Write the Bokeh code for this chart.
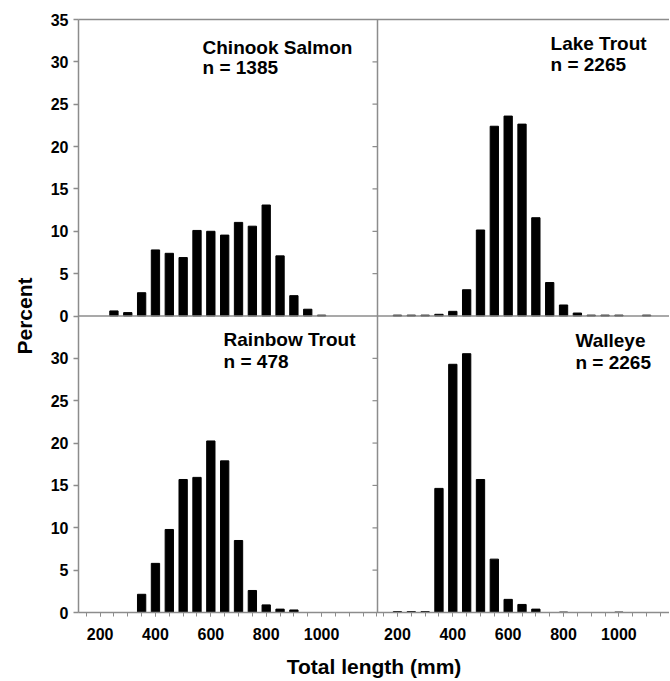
from bokeh.plotting import figure
from bokeh.models import Range1d, LinearAxis, FixedTicker, Span, Label
from bokeh.embed import file_html
from bokeh.resources import INLINE

# ---------------- data ----------------
chinook_len = [250, 300, 350, 400, 450, 500, 550, 600, 650, 700, 750, 800, 850, 900, 950, 1000]
chinook_pct = [0.6, 0.4, 2.75, 7.8, 7.4, 6.9, 10.1, 10.0, 9.55, 11.05, 10.6, 13.1, 7.1, 2.4, 0.8, 0.1]

lake_len = [200, 250, 300, 350, 400, 450, 500, 550, 600, 650, 700, 750, 800, 850, 900, 950, 1000, 1100]
lake_pct = [0.1, 0.1, 0.1, 0.2, 0.55, 3.1, 10.15, 22.4, 23.6, 22.65, 11.6, 3.95, 1.3, 0.35, 0.1, 0.1, 0.1, 0.1]

rainbow_len = [350, 400, 450, 500, 550, 600, 650, 700, 750, 800, 850, 900]
rainbow_pct = [2.15, 5.8, 9.8, 15.7, 15.95, 20.25, 17.9, 8.5, 2.6, 0.9, 0.4, 0.3]

walleye_len = [200, 250, 300, 350, 400, 450, 500, 550, 600, 650, 700, 800, 1000]
walleye_pct = [0.1, 0.1, 0.1, 14.65, 29.3, 30.55, 15.7, 6.3, 1.55, 0.95, 0.4, 0.05, 0.05]

species = ["Chinook Salmon", "Lake Trout", "Rainbow Trout", "Walleye"]
sample_n = [1385, 2265, 478, 2265]

y_ticks = [0, 5, 10, 15, 20, 25, 30, 35]
x_label_ticks = [200, 400, 600, 800, 1000]
x_minor_ticks = [150, 200, 250, 300, 350, 400, 450, 500, 550, 600, 650, 700,
                 750, 800, 850, 900, 950, 1000, 1050, 1100, 1150, 1200]

# ---------------- geometry ----------------
FONT = "Liberation Sans"
GREY = "#8c8c8c"
LW = 1.5

W, H = 669, 680
BL, BT = 78, 19               # frame left / top on the page
FB = 613                      # frame bottom on the page
xl0, xl1 = 122, 1202          # left panels (mm)
xr0 = 128                     # right panels start (mm)
left_px = 299
right_px = W - BL - left_px
mm_per_px = (xl1 - xl0) / left_px
offset = xl1 - xr0            # right value + offset -> default x coordinate
x_end = xl1 + right_px * mm_per_px
YMAX = 35

p = figure(width=W, height=H, output_backend="svg", toolbar_location=None,
           x_range=Range1d(xl0, x_end), y_range=Range1d(0, 2 * YMAX),
           min_border_left=BL, min_border_right=0, min_border_top=BT,
           min_border_bottom=H - FB)
p.extra_x_ranges = {"xr": Range1d(xr0 - (xl1 - xl0), x_end - offset)}
p.extra_y_ranges = {"yt": Range1d(-YMAX, YMAX)}
p.grid.visible = False
p.outline_line_color = None
p.background_fill_color = "white"
p.border_fill_color = "white"

BW = 30
p.vbar(x=chinook_len, top=chinook_pct, width=BW, color="black", y_range_name="yt")
p.vbar(x=lake_len, top=lake_pct, width=BW, color="black", x_range_name="xr", y_range_name="yt")
p.vbar(x=rainbow_len, top=rainbow_pct, width=BW, color="black")
p.vbar(x=walleye_len, top=walleye_pct, width=BW, color="black", x_range_name="xr")

# ---------------- left axis (both rows) ----------------
ya = p.yaxis[0]
ya.ticker = FixedTicker(ticks=y_ticks[:-1] + [t + YMAX for t in y_ticks])
ya.major_label_overrides = {t + YMAX: str(t) for t in y_ticks}
ya.axis_line_color = GREY
ya.axis_line_width = LW
ya.major_tick_line_color = GREY
ya.major_tick_line_width = LW
ya.major_tick_out = 5
ya.major_tick_in = 0
ya.minor_tick_line_color = None
ya.major_label_text_font = FONT
ya.major_label_text_font_style = "bold"
ya.major_label_text_font_size = "16px"
ya.major_label_text_color = "black"
ya.major_label_standoff = 5
ya.axis_label = "Percent"
ya.axis_label_text_font = FONT
ya.axis_label_text_font_style = "bold"
ya.axis_label_text_font_size = "21px"
ya.axis_label_text_color = "black"
ya.axis_label_standoff = 12

# ---------------- bottom axis (both columns) ----------------
xa = p.xaxis[0]
xa.ticker = FixedTicker(ticks=x_label_ticks + [v + offset for v in x_label_ticks],
                        minor_ticks=[v for v in x_minor_ticks if v <= xl1] +
                                    [v + offset for v in x_minor_ticks if v + offset <= x_end])
xa.major_label_overrides = {v + offset: str(v) for v in x_label_ticks}
xa.axis_line_color = GREY
xa.axis_line_width = LW
xa.major_tick_line_color = GREY
xa.minor_tick_line_color = GREY
xa.major_tick_line_width = 1
xa.minor_tick_line_width = 1
xa.major_tick_out = 4
xa.major_tick_in = 0
xa.minor_tick_out = 4
xa.minor_tick_in = 0
xa.major_label_text_font = FONT
xa.major_label_text_font_style = "bold"
xa.major_label_text_font_size = "16px"
xa.major_label_text_color = "black"
xa.major_label_standoff = 11
xa.axis_label = "Total length (mm)"
xa.axis_label_text_font = FONT
xa.axis_label_text_font_style = "bold"
xa.axis_label_text_font_size = "21px"
xa.axis_label_text_color = "black"
xa.axis_label_standoff = 12

# top border line
top_ax = LinearAxis(ticker=FixedTicker(ticks=[]), axis_line_color=GREY, axis_line_width=LW,
                    major_tick_line_color=None, minor_tick_line_color=None,
                    major_label_text_font_size="0px")
p.add_layout(top_ax, "above")

# panel separators
p.add_layout(Span(location=YMAX, dimension="width", line_color=GREY, line_width=LW))
p.add_layout(Span(location=xl1, dimension="height", line_color=GREY, line_width=LW))

# inward ticks on the separator
tick_len = 5 * mm_per_px
sep_ys = y_ticks[1:-1] + [t + YMAX for t in y_ticks[1:-1]]
p.segment(x0=[xl1 - tick_len] * len(sep_ys), y0=sep_ys, x1=[xl1] * len(sep_ys), y1=sep_ys,
          line_color=GREY, line_width=1.2)

# panel titles
title_pos = [
    (570, 31.7, 29.35, None, "yt"),
    (753, 32.17, 29.7, "xr", "yt"),
    (646, 32.17, 29.58, None, None),
    (843, 32.05, 29.46, "xr", None),
]
for name, n, (tx, ty1, ty2, xrn, yrn) in zip(species, sample_n, title_pos):
    for txt, ty in ((name, ty1), (f"n = {n}", ty2)):
        kw = {}
        if xrn:
            kw["x_range_name"] = xrn
        if yrn:
            kw["y_range_name"] = yrn
        p.add_layout(Label(x=tx, y=ty, text=txt, text_font=FONT, text_font_style="bold",
                           text_font_size="19px", text_color="black",
                           text_baseline="alphabetic", text_align="left", **kw))

open("out.html", "w").write(file_html(p, INLINE))
